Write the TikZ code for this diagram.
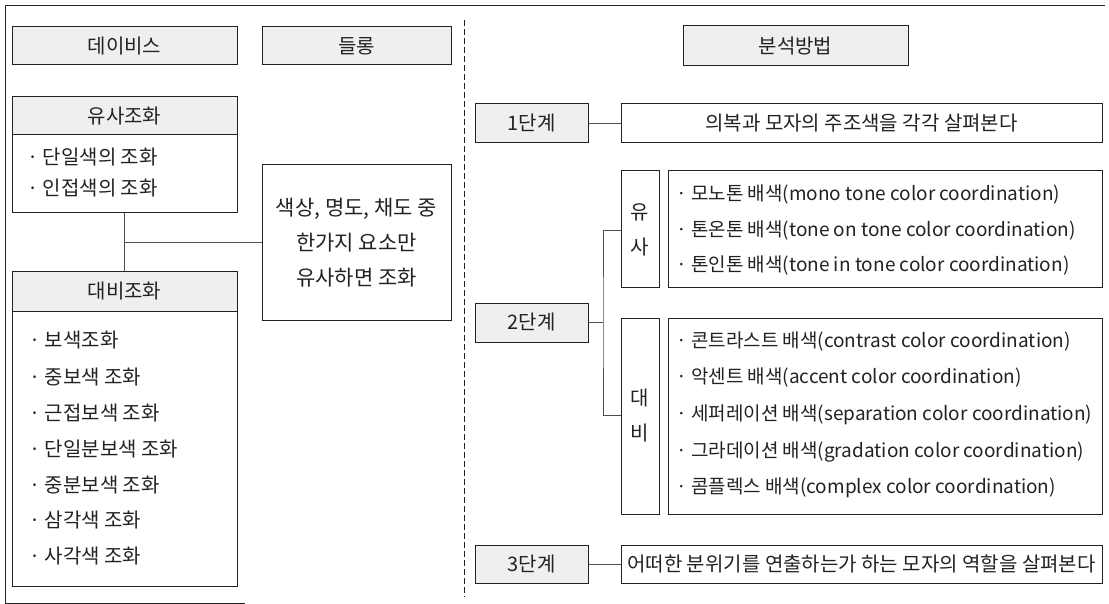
\documentclass[tikz,border=0pt]{standalone}
\usepackage{fontspec}
\setmainfont{Noto Sans CJK KR}
\definecolor{ink}{HTML}{222222}
\definecolor{shade}{HTML}{EFEFEF}
\tikzset{
  frame/.style={draw=ink, line width=1pt},
  box/.style={draw=ink, line width=1pt, inner sep=0pt, align=center, text=ink, font=\fontsize{20}{24}\selectfont},
  headbox/.style={box, fill=shade},
  item/.style={anchor=west, inner sep=0pt, text=ink, font=\fontsize{20}{24}\selectfont},
  ritem/.style={item, font=\fontsize{19}{23}\selectfont},
  link/.style={draw=ink!80, line width=0.8pt},
  divider/.style={draw=ink, line width=0.8pt, dash pattern=on 6pt off 3pt}
}
\begin{document}
\begin{tikzpicture}[x=1pt,y=-1pt]
\useasboundingbox (0,0) rectangle (1109,604);
% outer frame fragments
\draw[frame] (245,603) -- (5,603) -- (5,6) -- (1105,6);
\coordinate (dtop) at (464,20);
\coordinate (dbot) at (464,597);
\draw[divider] (dtop) -- (dbot);

% left side
\node[headbox, minimum width=225pt, minimum height=38pt] (davis) at (124.5,46) {데이비스};
\node[headbox, minimum width=189pt, minimum height=38pt] (delong) at (356.5,46) {들롱};

\node[headbox, minimum width=225pt, minimum height=38pt] (yusaH) at (124.5,116) {유사조화};
\node[box, minimum width=225pt, minimum height=78pt] (yusaB) at (124.5,174) {};
\node[item] (y1) at (27,157) {· 단일색의 조화};
\node[item] (y2) at (27,188) {· 인접색의 조화};

\node[box, minimum width=189pt, minimum height=155pt, font=\fontsize{21}{35}\selectfont] (mid) at (356.5,242.5) {색상, 명도, 채도 중\\한가지 요소만\\유사하면 조화};

\node[headbox, minimum width=225pt, minimum height=39pt] (daebiH) at (124.5,291.5) {대비조화};
\node[box, minimum width=225pt, minimum height=275pt] (daebiB) at (124.5,448.5) {};
\node[item] (d1) at (29,340) {· 보색조화};
\node[item] (d2) at (29,377) {· 중보색 조화};
\node[item] (d3) at (29,413) {· 근접보색 조화};
\node[item] (d4) at (29,449) {· 단일분보색 조화};
\node[item] (d5) at (29,485) {· 중분보색 조화};
\node[item] (d6) at (29,520) {· 삼각색 조화};
\node[item] (d7) at (29,556) {· 사각색 조화};

\coordinate (lj) at (124.5,242.5);
\draw[link] (yusaB.south) -- (daebiH.north);
\draw[link] (lj) -- (mid.west);

% right side
\node[headbox, minimum width=225pt, minimum height=40pt] (method) at (795.5,46) {분석방법};

\node[headbox, minimum width=113pt, minimum height=39pt] (s1) at (531.5,123) {1단계};
\node[box, minimum width=481pt, minimum height=39pt] (s1t) at (861.5,123) {의복과 모자의 주조색을 각각 살펴본다};
\draw[link] (s1.east) -- (s1t.west);

\node[box, minimum width=38pt, minimum height=117pt, font=\fontsize{20}{35}\selectfont] (ysl) at (640,229.5) {유\\사};
\node[box, minimum width=434pt, minimum height=117pt] (ysb) at (885,229.5) {};
\node[ritem] (r1) at (676,195) {· 모노톤 배색(mono tone color coordination)};
\node[ritem] (r2) at (676,231) {· 톤온톤 배색(tone on tone color coordination)};
\node[ritem] (r3) at (676,266) {· 톤인톤 배색(tone in tone color coordination)};

\node[box, minimum width=38pt, minimum height=196pt, font=\fontsize{20}{35}\selectfont] (dbl) at (640,416) {대\\비};
\node[box, minimum width=434pt, minimum height=196pt] (dbb) at (885,416) {};
\node[ritem] (r4) at (676,342) {· 콘트라스트 배색(contrast color coordination)};
\node[ritem] (r5) at (676,378) {· 악센트 배색(accent color coordination)};
\node[ritem] (r6) at (676,415) {· 세퍼레이션 배색(separation color coordination)};
\node[ritem] (r7) at (676,452) {· 그라데이션 배색(gradation color coordination)};
\node[ritem] (r8) at (676,488) {· 콤플렉스 배색(complex color coordination)};

\node[headbox, minimum width=113pt, minimum height=39pt] (s2) at (531.5,322.5) {2단계};
\coordinate (bj) at (603,322.5);
\draw[link] (s2.east) -- (bj);
\draw[link] (ysl.west |- 0,230) -| (bj) |- (dbl.west |- 0,415);

\node[headbox, minimum width=113pt, minimum height=38pt] (s3) at (531.5,564) {3단계};
\node[box, minimum width=481pt, minimum height=38pt] (s3t) at (861.5,564) {어떠한 분위기를 연출하는가 하는 모자의 역할을 살펴본다};
\draw[link] (s3.east) -- (s3t.west);
\end{tikzpicture}
\end{document}
